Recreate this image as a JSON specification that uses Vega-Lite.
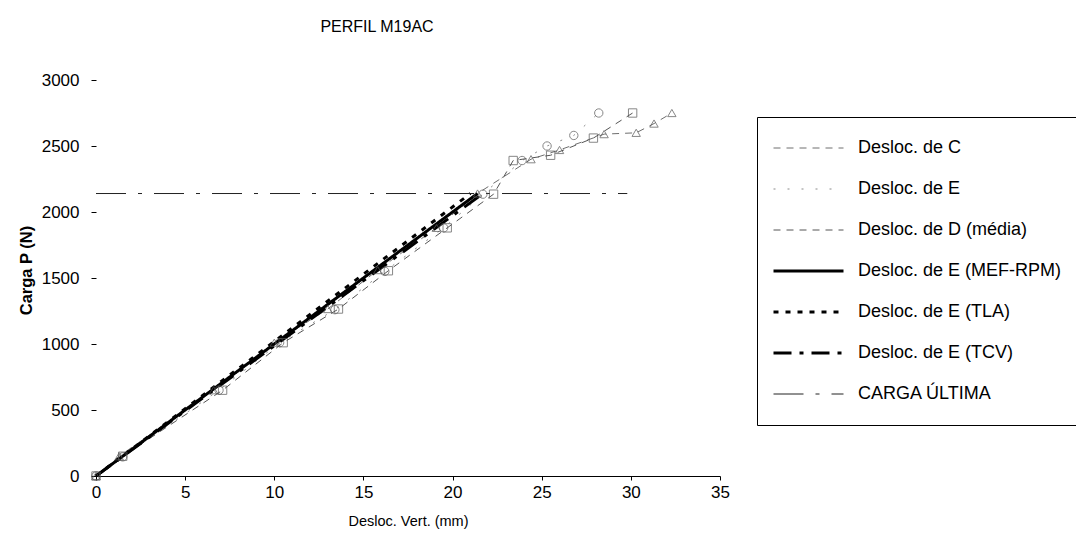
{
  "$schema": "https://vega.github.io/schema/vega-lite/v6.json",
  "autosize": "none",
  "width": 624,
  "height": 396,
  "padding": {"left": 96, "top": 80, "right": 356, "bottom": 80},
  "background": "white",
  "title": {"text": "PERFIL M19AC", "anchor": "middle", "dx": -31, "offset": 36, "fontSize": 16, "fontWeight": "normal", "font": "Liberation Sans", "color": "#000"},
  "config": {
    "view": {"stroke": null},
    "font": "Liberation Sans",
    "axis": {"grid": false, "labelFont": "Liberation Sans", "titleFont": "Liberation Sans", "labelColor": "#000", "titleColor": "#000", "tickColor": "#000", "domainColor": "#000"}
  },
  "data": {"values": [
    {"series": "Desloc. de C", "x": 0, "y": 0},
    {"series": "Desloc. de C", "x": 1.3, "y": 150},
    {"series": "Desloc. de C", "x": 6.6, "y": 650},
    {"series": "Desloc. de C", "x": 10.0, "y": 1010},
    {"series": "Desloc. de C", "x": 13.0, "y": 1265},
    {"series": "Desloc. de C", "x": 15.8, "y": 1560},
    {"series": "Desloc. de C", "x": 19.1, "y": 1880},
    {"series": "Desloc. de C", "x": 21.4, "y": 2140},
    {"series": "Desloc. de C", "x": 24.4, "y": 2400},
    {"series": "Desloc. de C", "x": 26.0, "y": 2470},
    {"series": "Desloc. de C", "x": 28.5, "y": 2590},
    {"series": "Desloc. de C", "x": 30.3, "y": 2600},
    {"series": "Desloc. de C", "x": 31.3, "y": 2670},
    {"series": "Desloc. de C", "x": 32.3, "y": 2750},
    {"series": "Desloc. de E", "x": 0, "y": 0},
    {"series": "Desloc. de E", "x": 1.5, "y": 145},
    {"series": "Desloc. de E", "x": 6.9, "y": 650},
    {"series": "Desloc. de E", "x": 10.3, "y": 1010},
    {"series": "Desloc. de E", "x": 13.4, "y": 1260},
    {"series": "Desloc. de E", "x": 16.2, "y": 1550},
    {"series": "Desloc. de E", "x": 19.5, "y": 1880},
    {"series": "Desloc. de E", "x": 21.7, "y": 2135},
    {"series": "Desloc. de E", "x": 23.9, "y": 2390},
    {"series": "Desloc. de E", "x": 25.3, "y": 2500},
    {"series": "Desloc. de E", "x": 26.8, "y": 2580},
    {"series": "Desloc. de E", "x": 28.2, "y": 2750},
    {"series": "Desloc. de D (média)", "x": 0, "y": 0},
    {"series": "Desloc. de D (média)", "x": 1.5, "y": 150},
    {"series": "Desloc. de D (média)", "x": 7.1, "y": 650},
    {"series": "Desloc. de D (média)", "x": 10.5, "y": 1010},
    {"series": "Desloc. de D (média)", "x": 13.6, "y": 1265},
    {"series": "Desloc. de D (média)", "x": 16.4, "y": 1555},
    {"series": "Desloc. de D (média)", "x": 19.7, "y": 1880},
    {"series": "Desloc. de D (média)", "x": 22.3, "y": 2135},
    {"series": "Desloc. de D (média)", "x": 23.4, "y": 2390},
    {"series": "Desloc. de D (média)", "x": 25.5, "y": 2430},
    {"series": "Desloc. de D (média)", "x": 27.9, "y": 2560},
    {"series": "Desloc. de D (média)", "x": 30.1, "y": 2750},
    {"series": "Desloc. de E (MEF-RPM)", "x": 0, "y": 0},
    {"series": "Desloc. de E (MEF-RPM)", "x": 21.4, "y": 2140},
    {"series": "Desloc. de E (TLA)", "x": 0, "y": 0},
    {"series": "Desloc. de E (TLA)", "x": 21.0, "y": 2140},
    {"series": "Desloc. de E (TCV)", "x": 0, "y": 0},
    {"series": "Desloc. de E (TCV)", "x": 21.7, "y": 2140},
    {"series": "CARGA ÚLTIMA", "x": 0, "y": 2140},
    {"series": "CARGA ÚLTIMA", "x": 29.8, "y": 2140}
  ]},
  "encoding": {
    "x": {"field": "x", "type": "quantitative", "scale": {"domain": [0, 35], "nice": false},
      "axis": {"title": "Desloc. Vert. (mm)", "values": [0, 5, 10, 15, 20, 25, 30, 35], "format": "d", "labelFontSize": 17, "titleFontSize": 14.5, "titleFontWeight": "normal", "tickSize": 4, "labelPadding": 4, "titlePadding": 14, "labelFlush": false}},
    "y": {"field": "y", "type": "quantitative", "scale": {"domain": [0, 3000], "nice": false},
      "axis": {"title": "Carga P (N)", "values": [0, 500, 1000, 1500, 2000, 2500, 3000], "format": "d", "domain": false, "labelFontSize": 17, "titleFontSize": 16.5, "titleFontWeight": "bold", "tickSize": 5, "labelPadding": 12, "titlePadding": 7, "titleY": 190, "labelFlush": false}}
  },
  "layer": [
    {
      "mark": {"type": "line", "strokeCap": "butt"},
      "encoding": {
        "detail": {"field": "series"},
        "order": {"field": "x"},
        "color": {"field": "series", "type": "nominal", "sort": null,
          "scale": {"domain": ["Desloc. de C", "Desloc. de E", "Desloc. de D (média)", "Desloc. de E (MEF-RPM)", "Desloc. de E (TLA)", "Desloc. de E (TCV)", "CARGA ÚLTIMA"],
            "range": ["#6e6e6e", "#8a8a8a", "#555555", "#000000", "#000000", "#000000", "#222222"]},
          "legend": {"title": null, "orient": "none", "legendX": 661, "legendY": 37, "symbolType": "stroke", "symbolSize": 4900, "clipHeight": 32, "rowPadding": 9, "padding": 15, "labelOffset": 13, "labelFontSize": 18, "labelFont": "Liberation Sans", "labelColor": "#000", "labelLimit": 400, "strokeColor": "#000", "fillColor": "white"}},
        "strokeDash": {"field": "series", "type": "nominal", "sort": null,
          "scale": {"domain": ["Desloc. de C", "Desloc. de E", "Desloc. de D (média)", "Desloc. de E (MEF-RPM)", "Desloc. de E (TLA)", "Desloc. de E (TCV)", "CARGA ÚLTIMA"],
            "range": [[7, 6], [2, 12], [7, 6], [1, 0], [5, 7], [18, 8, 4, 8], [30, 12, 4, 12]]},
          "legend": {"title": null, "orient": "none", "legendX": 661, "legendY": 37, "symbolType": "stroke", "symbolSize": 4900, "clipHeight": 32, "rowPadding": 9, "padding": 15, "labelOffset": 13, "labelFontSize": 18, "labelFont": "Liberation Sans", "labelColor": "#000", "labelLimit": 400, "strokeColor": "#000", "fillColor": "white"}},
        "strokeWidth": {"field": "series", "type": "ordinal", "sort": null,
          "scale": {"type": "ordinal", "domain": ["Desloc. de C", "Desloc. de E", "Desloc. de D (média)", "Desloc. de E (MEF-RPM)", "Desloc. de E (TLA)", "Desloc. de E (TCV)", "CARGA ÚLTIMA"],
            "range": [1, 1, 1, 3, 3, 3, 1]},
          "legend": {"title": null, "orient": "none", "legendX": 661, "legendY": 37, "symbolType": "stroke", "symbolSize": 4900, "clipHeight": 32, "rowPadding": 9, "padding": 15, "labelOffset": 13, "labelFontSize": 18, "labelFont": "Liberation Sans", "labelColor": "#000", "labelLimit": 400, "strokeColor": "#000", "fillColor": "white"}}
      }
    },
    {
      "transform": [{"filter": {"field": "series", "oneOf": ["Desloc. de C", "Desloc. de E", "Desloc. de D (média)"]}}],
      "mark": {"type": "point", "filled": false, "stroke": "#555", "strokeWidth": 1, "size": 70},
      "encoding": {
        "shape": {"field": "series", "type": "nominal", "sort": null,
          "scale": {"domain": ["Desloc. de C", "Desloc. de E", "Desloc. de D (média)"], "range": ["triangle-up", "circle", "square"]},
          "legend": null}
      }
    }
  ]
}
